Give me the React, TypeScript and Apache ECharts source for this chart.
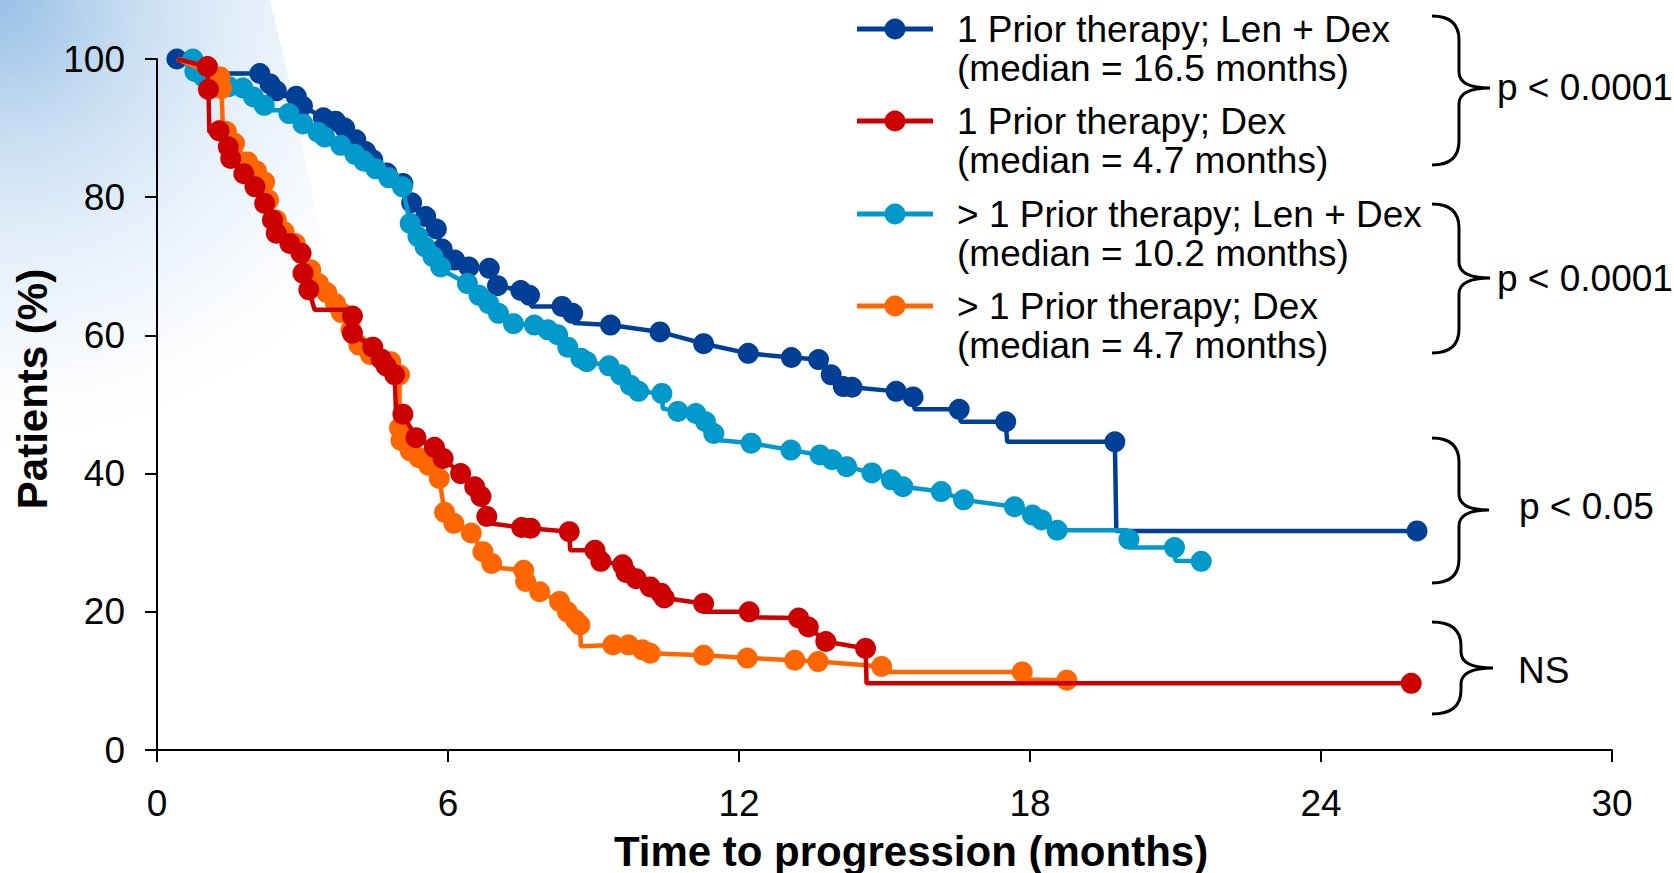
import React, { useEffect, useRef } from "react";
import * as echarts from "echarts";

// [month, percent, observed-point marker (1) or step corner (0)]
const LEN_1PRIOR: number[][] = [
  [0.41, 100, 1], [1.1, 97.9, 0], [2.12, 97.9, 1], [2.33, 96.4, 1], [2.46, 95.4, 1], [2.48, 94.7, 0],
  [2.87, 94.6, 1], [3.0, 93.2, 1], [3.43, 91.5, 1], [3.68, 91.0, 1], [3.87, 90.0, 1], [4.1, 88.3, 1],
  [4.3, 86.6, 1], [4.45, 85.4, 1], [4.74, 83.5, 1], [5.07, 82.0, 1], [5.25, 79.2, 1], [5.54, 77.2, 1],
  [5.76, 75.4, 1], [5.88, 72.5, 1], [6.14, 70.9, 1], [6.43, 69.9, 1], [6.85, 69.7, 1], [7.02, 67.2, 1],
  [7.5, 66.5, 1], [7.68, 65.8, 1], [7.72, 64.2, 0], [8.35, 64.2, 1], [8.57, 63.2, 1], [8.6, 61.8, 0],
  [9.35, 61.5, 1], [10.37, 60.5, 1], [11.27, 58.8, 1], [12.19, 57.4, 1], [13.08, 56.8, 1], [13.64, 56.5, 1],
  [13.9, 54.3, 1], [14.15, 52.6, 1], [14.33, 52.5, 1], [15.24, 51.9, 1], [15.59, 51.1, 1], [15.62, 49.3, 0],
  [16.54, 49.3, 1], [16.57, 47.5, 0], [17.5, 47.5, 1], [17.53, 44.6, 0], [19.75, 44.6, 1], [19.78, 31.7, 0],
  [25.98, 31.7, 1],
];

const DEX_1PRIOR: number[][] = [
  [0.41, 100, 0], [1.04, 98.9, 1], [1.06, 95.6, 1], [1.08, 89.4, 0], [1.28, 89.6, 1], [1.47, 87.3, 1],
  [1.52, 85.6, 1], [1.79, 83.4, 1], [2.02, 81.5, 1], [2.22, 79.1, 1], [2.38, 76.7, 1], [2.46, 74.8, 1],
  [2.74, 73.3, 1], [2.97, 71.9, 1], [3.01, 69.0, 1], [3.13, 66.6, 1], [3.25, 63.7, 0], [3.96, 63.7, 0],
  [4.03, 62.8, 1], [4.03, 60.3, 1], [4.45, 58.3, 1], [4.62, 56.6, 1], [4.72, 55.6, 1], [4.9, 54.3, 1],
  [4.93, 48.6, 0], [5.07, 48.6, 1], [5.34, 45.2, 1], [5.72, 43.8, 1], [5.9, 42.2, 1], [6.26, 40.0, 1],
  [6.55, 38.1, 1], [6.68, 36.7, 1], [6.8, 33.8, 1], [6.85, 32.8, 0], [7.52, 32.2, 1], [7.7, 32.1, 1],
  [8.5, 31.6, 1], [8.52, 28.9, 0], [9.03, 28.9, 1], [9.15, 27.3, 1], [9.6, 26.8, 1], [9.67, 25.7, 1],
  [9.88, 24.8, 1], [10.17, 23.6, 1], [10.39, 22.7, 1], [10.46, 22.0, 1], [11.27, 21.2, 1], [11.29, 20.0, 0],
  [12.21, 20.0, 1], [12.23, 19.2, 0], [13.23, 19.1, 1], [13.43, 17.8, 1], [13.79, 15.7, 1], [14.61, 14.7, 1],
  [14.63, 9.65, 0], [25.86, 9.65, 1],
];

const LEN_MULTI: number[][] = [
  [0.41, 100, 0], [0.74, 100, 1], [0.78, 98.2, 1], [0.96, 97.4, 1], [1.48, 96.0, 1], [1.77, 95.8, 1],
  [1.99, 94.5, 1], [2.21, 93.3, 1], [2.25, 92.6, 0], [2.65, 92.6, 0], [2.72, 92.1, 1], [3.01, 90.6, 1],
  [3.32, 89.4, 1], [3.46, 88.7, 1], [3.79, 87.5, 1], [4.08, 86.2, 1], [4.27, 85.2, 1], [4.51, 84.1, 1],
  [4.78, 82.8, 1], [5.06, 81.5, 1], [5.22, 76.2, 1], [5.38, 74.3, 1], [5.53, 72.8, 1], [5.69, 71.4, 1],
  [5.85, 69.9, 1], [6.0, 69.0, 0], [6.4, 67.5, 1], [6.64, 65.8, 1], [6.84, 64.6, 1], [7.04, 63.2, 1],
  [7.35, 61.7, 1], [7.78, 61.5, 1], [8.06, 60.8, 1], [8.26, 60.1, 1], [8.47, 58.3, 1], [8.74, 56.7, 1],
  [8.86, 56.2, 1], [9.32, 55.6, 1], [9.56, 54.3, 1], [9.76, 52.8, 1], [9.93, 51.9, 1], [10.41, 51.6, 1],
  [10.43, 49.4, 0], [10.74, 49.0, 1], [11.11, 48.7, 1], [11.31, 47.5, 1], [11.48, 45.8, 1], [11.5, 44.9, 0],
  [12.25, 44.4, 1], [13.07, 43.4, 1], [13.67, 42.7, 1], [13.92, 42.0, 1], [14.22, 41.0, 1], [14.74, 40.1, 1],
  [15.14, 39.1, 1], [15.38, 38.1, 1], [16.17, 37.4, 1], [16.63, 36.2, 1], [17.68, 35.2, 1], [18.05, 34.0, 1],
  [18.24, 33.3, 1], [18.56, 31.8, 1], [20.0, 31.8, 0], [20.04, 30.5, 1], [20.06, 29.3, 0], [20.98, 29.3, 1],
  [21.0, 27.4, 0], [21.53, 27.3, 1],
];

const DEX_MULTI: number[][] = [
  [0.41, 100, 0], [1.3, 97.4, 1], [1.33, 95.7, 1], [1.36, 89.6, 0], [1.43, 89.5, 1], [1.6, 87.8, 1],
  [1.87, 85.1, 1], [2.05, 83.8, 1], [2.22, 82.2, 1], [2.3, 79.6, 1], [2.46, 76.7, 1], [2.62, 75.0, 1],
  [2.85, 73.3, 1], [3.17, 69.5, 1], [3.33, 67.5, 1], [3.5, 66.2, 1], [3.68, 64.6, 1], [3.8, 63.3, 1],
  [4.0, 60.8, 1], [4.16, 58.6, 1], [4.4, 57.2, 1], [4.82, 56.2, 1], [5.0, 54.3, 1], [5.0, 46.6, 1],
  [5.03, 44.8, 1], [5.22, 43.3, 1], [5.4, 42.3, 1], [5.6, 41.2, 1], [5.82, 39.3, 1], [5.93, 34.4, 1],
  [6.12, 32.8, 1], [6.48, 31.4, 1], [6.72, 28.7, 1], [6.9, 27.0, 1], [6.95, 26.4, 0], [7.56, 26.0, 1],
  [7.6, 24.4, 1], [7.89, 22.9, 1], [8.3, 21.5, 1], [8.46, 20.0, 1], [8.63, 18.8, 1], [8.72, 18.1, 1],
  [8.74, 15.0, 0], [9.4, 15.2, 1], [9.72, 15.2, 1], [10.01, 14.5, 1], [10.17, 14.0, 1], [11.27, 13.7, 1],
  [12.17, 13.3, 1], [13.15, 13.0, 1], [13.63, 12.8, 1], [14.94, 12.1, 1], [14.96, 11.3, 0], [17.84, 11.3, 1],
  [17.86, 10.2, 0], [18.76, 10.1, 1],
];

const LEGEND_NAMES = [
  "1 Prior therapy; Len + Dex",
  "1 Prior therapy; Dex",
  "> 1 Prior therapy; Len + Dex",
  "> 1 Prior therapy; Dex",
];
const LEGEND_MEDIANS = [
  "(median = 16.5 months)",
  "(median = 4.7 months)",
  "(median = 10.2 months)",
  "(median = 4.7 months)",
];
const P_LABELS = ["p < 0.0001", "p < 0.0001", "p < 0.05", "NS"];

const X_TITLE = "Time to progression (months)";
const Y_TITLE = "Patients (%)";

const COLORS = ["#003f96", "#cc0000", "#0099cc", "#ff6600"];
const FONT = '"Liberation Sans", Arial, Helvetica, sans-serif';

function bracePath(x0: number, x1: number, x2: number, top: number, mid: number, bot: number) {
  const r = 24;
  const t = 16;
  return (
    `M${x0},${top} Q${x1},${top} ${x1},${top + r} L${x1},${mid - t} ` +
    `Q${x1},${mid} ${x2},${mid} Q${x1},${mid} ${x1},${mid + t} ` +
    `L${x1},${bot - r} Q${x1},${bot} ${x0},${bot}`
  );
}

export default function App() {
  const ref = useRef<HTMLDivElement>(null);

  useEffect(() => {
    if (!ref.current) return;
    const braces = [
      [1432, 1459, 1490, 16, 88, 165],
      [1432, 1459, 1490, 204, 278, 353],
      [1432, 1459, 1489, 438, 510, 583],
      [1432, 1461, 1493, 622, 668, 714],
    ];
    braces.forEach((b, i) => {
      echarts.graphic.registerShape(
        "brace" + i,
        echarts.graphic.extendPath(bracePath(b[0], b[1], b[2], b[3], b[4], b[5]), {})
      );
    });

    const chart = echarts.init(ref.current, null, { renderer: "svg" });

    const toData = (arr: number[][]) =>
      arr.map(([x, y, m]) => (m ? { value: [x, y] } : { value: [x, y], symbol: "none" }));

    const seriesSets = [LEN_1PRIOR, DEX_1PRIOR, LEN_MULTI, DEX_MULTI];
    const drawOrder = [0, 2, 3, 1];

    const series = drawOrder.map((idx, k) => ({
      type: "line",
      name: LEGEND_NAMES[idx],
      data: toData(seriesSets[idx]),
      symbol: "circle",
      symbolSize: 21,
      showAllSymbol: true,
      clip: false,
      silent: true,
      z: 2 + k,
      lineStyle: { color: COLORS[idx], width: 4.5 },
      itemStyle: { color: COLORS[idx] },
    }));

    const legendTops = [29, 121, 214, 306];
    const elements: any[] = [];

    elements.push({
      type: "polygon",
      z: -100,
      silent: true,
      shape: {
        points: [
          [0, 0], [270, 0], [286, 67], [307, 167], [335, 300], [380, 470], [0, 470],
        ],
      },
      style: {
        fill: {
          type: "radial",
          x: 0,
          y: 0,
          r: 470,
          global: true,
          colorStops: [
            { offset: 0, color: "#98c0e7" },
            { offset: 0.3, color: "#cadff3" },
            { offset: 0.55, color: "#e6f0fa" },
            { offset: 0.8, color: "#f9fbfe" },
            { offset: 1, color: "rgba(255,255,255,0)" },
          ],
        },
      },
    });

    LEGEND_NAMES.forEach((name, i) => {
      const y = legendTops[i];
      elements.push({
        type: "line",
        shape: { x1: 857, y1: y, x2: 933, y2: y },
        style: { stroke: COLORS[i], lineWidth: 5 },
      });
      elements.push({
        type: "circle",
        shape: { cx: 895, cy: y, r: 10.5 },
        style: { fill: COLORS[i] },
      });
      elements.push({
        type: "text",
        x: 957,
        y: y,
        style: { text: name, fontSize: 37, fontFamily: FONT, fill: "#000", align: "left", verticalAlign: "middle" },
      });
      elements.push({
        type: "text",
        x: 957,
        y: y + 39,
        style: {
          text: LEGEND_MEDIANS[i],
          fontSize: 37,
          fontFamily: FONT,
          fill: "#000",
          align: "left",
          verticalAlign: "middle",
        },
      });
    });

    braces.forEach((b, i) => {
      elements.push({
        type: "brace" + i,
        x: 0,
        y: 0,
        style: { fill: "none", stroke: "#000", lineWidth: 3 },
      });
    });

    const pPos = [
      [1497, 87],
      [1497, 278],
      [1519, 506],
      [1518, 670],
    ];
    P_LABELS.forEach((t, i) => {
      elements.push({
        type: "text",
        x: pPos[i][0],
        y: pPos[i][1],
        style: { text: t, fontSize: 37, fontFamily: FONT, fill: "#000", align: "left", verticalAlign: "middle" },
      });
    });

    elements.push({
      type: "text",
      x: 911,
      y: 851,
      style: {
        text: X_TITLE,
        fontSize: 42,
        fontWeight: "bold",
        fontFamily: FONT,
        fill: "#000",
        align: "center",
        verticalAlign: "middle",
      },
    });
    elements.push({
      type: "text",
      x: 32,
      y: 389,
      rotation: Math.PI / 2,
      style: {
        text: Y_TITLE,
        fontSize: 42,
        fontWeight: "bold",
        fontFamily: FONT,
        fill: "#000",
        align: "center",
        verticalAlign: "middle",
      },
    });

    const axisCommon = {
      axisLine: { show: true, lineStyle: { color: "#000", width: 2 } },
      axisTick: { show: true, length: 12, lineStyle: { color: "#000", width: 2 } },
      splitLine: { show: false },
    };

    chart.setOption({
      animation: false,
      backgroundColor: "#ffffff",
      textStyle: { fontFamily: FONT },
      grid: { left: 157, right: 62, top: 59, bottom: 123, containLabel: false },
      xAxis: {
        type: "value",
        min: 0,
        max: 30,
        interval: 6,
        ...axisCommon,
        axisLabel: { color: "#000", fontSize: 37, fontFamily: FONT, margin: 35 },
      },
      yAxis: {
        type: "value",
        min: 0,
        max: 100,
        interval: 20,
        ...axisCommon,
        axisLabel: { color: "#000", fontSize: 37, fontFamily: FONT, margin: 32 },
      },
      graphic: { elements },
      series,
    });

    return () => chart.dispose();
  }, []);

  return (
    <div
      ref={ref}
      style={{ position: "fixed", left: 0, top: 0, width: 1674, height: 873, background: "#fff" }}
    />
  );
}
